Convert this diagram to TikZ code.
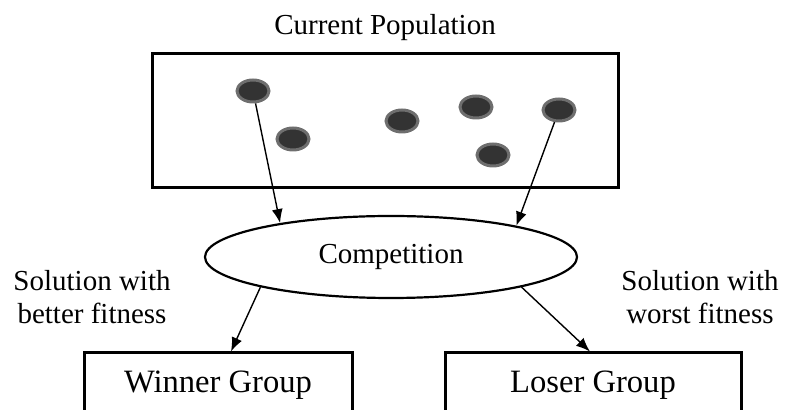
\documentclass[tikz,border=0pt]{standalone}
\usepackage{fontspec}
\setmainfont{Liberation Serif}
\usetikzlibrary{shapes.geometric,arrows.meta}
\definecolor{dotcore}{HTML}{333333}
\definecolor{dotrim}{HTML}{6E6E6E}
\tikzset{
  box/.style={draw,line width=1.5pt,inner sep=0pt},
  group/.style={box,font=\fontsize{16.3}{18}\selectfont,minimum height=32pt},
  dot/.style={ellipse,draw=dotrim,fill=dotcore,line width=1.5pt,
    minimum width=16pt,minimum height=11pt,inner sep=0pt},
  link/.style={-{Latex[length=7pt,width=5.5pt]},line width=0.7pt},
}
\begin{document}
\begin{tikzpicture}[x=0.5pt,y=-0.5pt,font=\fontsize{14.5}{16.5}\selectfont]
  \useasboundingbox (0,0) rectangle (787,410);
  \clip (0,0) rectangle (787,410);
  % population
  \node (title) at (385,28) {Current Population};
  \node[box,minimum width=233pt,minimum height=67pt] (pop) at (385,121) {};
  \node[dot] (d1) at (253,91) {};
  \node[dot] (d2) at (293,139) {};
  \node[dot] (d3) at (402,121) {};
  \node[dot] (d4) at (476,107) {};
  \node[dot] (d5) at (493,155) {};
  \node[dot] (d6) at (559,110) {};
  % competition
  \node[ellipse,draw,line width=1.1pt,minimum width=186pt,minimum height=41pt] (comp) at (391,257) {Competition};
  \draw[link] (d1) -- (comp.163.7);
  \draw[link] (d6) -- (comp.14.3);
  % groups
  \node[group,minimum width=134pt] (winner) at (218,385) {Winner Group};
  \node[group,minimum width=148pt] (loser) at (593,385) {Loser Group};
  \draw[link] (comp.-167) -- ([xshift=6.5pt]winner.north);
  \draw[link] (comp.-13.3) -- ([xshift=-1.5pt]loser.north);
  \node[align=center] (better) at (92,297) {Solution with\\better fitness};
  \node[align=center] (worst) at (700,297) {Solution with\\worst fitness};
\end{tikzpicture}
\end{document}
